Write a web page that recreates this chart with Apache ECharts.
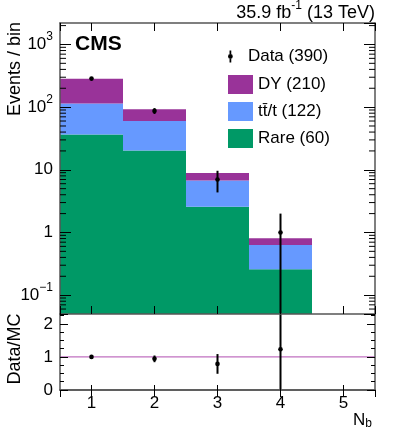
<!DOCTYPE html>
<html>
<head>
<meta charset="utf-8">
<script src="https://cdn.jsdelivr.net/npm/echarts@6/dist/echarts.min.js"></script>
<style>
html, body { margin: 0; padding: 0; background: #fff; }
#chart { width: 399px; height: 436px; }
</style>
</head>
<body>
<div id="chart"></div>
<script>
// N_b bins
const bins = [1, 2, 3, 4, 5];
// MC stack, bottom to top
const rare = [36.7, 20.3, 2.57, 0.26, 0];
const ttbar = [78, 40, 4.2, 0.37, 0];
const dy = [170, 32, 2.1, 0.18, 0];
// observed events
const observed = [285, 87, 7, 1, null];
// legend entries and yields
const legendNames = ['Data', 'DY', 'tt\u0304/t', 'Rare'];
const legendYields = [390, 210, 122, 60];
// reference line of the ratio panel
const ratioRef = 1;

const FONT = 'Liberation Sans, Arial, sans-serif';
const COLORS = { dy: '#993399', tt: '#6699ff', rare: '#009966' };
const Y_MIN = 0.05, Y_MAX = 2200, Y_FLOOR = 1e-3;

// stacked bands [x, lo, hi]
const rareBand = [], ttBand = [], dyBand = [];
bins.forEach((b, i) => {
    const t1 = rare[i], t2 = t1 + ttbar[i], t3 = t2 + dy[i];
    if (rare[i] > 0) rareBand.push([b, Y_FLOOR, t1]);
    if (ttbar[i] > 0) ttBand.push([b, t1, t2]);
    if (dy[i] > 0) dyBand.push([b, t2, t3]);
});

// data points [x, n, err] and ratio [x, n/mc, err/mc]
const dataPts = [], ratioPts = [];
bins.forEach((b, i) => {
    if (observed[i] == null) return;
    const mc = rare[i] + ttbar[i] + dy[i];
    const err = Math.sqrt(observed[i]);
    dataPts.push([b, observed[i], err]);
    ratioPts.push([b, observed[i] / mc, err / mc]);
});

// minor ticks of the log axis
const minorTicks = [];
for (let e = -2; e <= 3; e++) {
    for (let m = 2; m <= 9; m++) {
        const v = m * Math.pow(10, e);
        if (v > Y_MIN && v < Y_MAX) minorTicks.push([v]);
    }
}

function legendLabel(name) {
    return name + ' (' + legendYields[legendNames.indexOf(name)] + ')';
}

function renderBand(params, api) {
    const x = api.value(0);
    const p0 = api.coord([x - 0.5, api.value(2)]);
    const p1 = api.coord([x + 0.5, api.value(1)]);
    return {
        type: 'rect',
        shape: { x: p0[0], y: p0[1], width: p1[0] - p0[0], height: p1[1] - p0[1] },
        style: { fill: api.visual('color') }
    };
}

function renderPoint(params, api) {
    const x = api.value(0), v = api.value(1), e = api.value(2);
    const top = api.coord([x, v + e]);
    const bot = api.coord([x, Math.max(v - e, Y_FLOOR)]);
    const c = api.coord([x, v]);
    return {
        type: 'group',
        children: [
            { type: 'line', shape: { x1: c[0], y1: top[1], x2: c[0], y2: bot[1] }, style: { stroke: '#000', lineWidth: 2 } },
            { type: 'circle', shape: { cx: c[0], cy: c[1], r: 2.3 }, style: { fill: '#000' } }
        ]
    };
}

function renderMinorTicks(params, api) {
    const l = api.coord([0.5, api.value(0)]);
    const r = api.coord([5.5, api.value(0)]);
    return {
        type: 'group',
        children: [
            { type: 'line', shape: { x1: l[0], y1: l[1], x2: l[0] + 6, y2: l[1] }, style: { stroke: '#000', lineWidth: 1 } },
            { type: 'line', shape: { x1: r[0], y1: r[1], x2: r[0] - 6, y2: r[1] }, style: { stroke: '#000', lineWidth: 1 } }
        ]
    };
}

function logLabel(v) {
    const e = Math.round(Math.log10(v));
    if (e === 1) return '{base|10}';
    if (e === 0) return '{base|1}';
    return '{base|10}{sup|' + (e < 0 ? '\u22121' : e) + '}';
}

const labelRich = {
    base: { fontSize: 17, fontFamily: FONT, color: '#000', verticalAlign: 'top', padding: [5, 0, 5, 0] },
    sup: { fontSize: 12, fontFamily: FONT, color: '#000', verticalAlign: 'top' }
};

const lineStyle = { color: '#555', width: 1.5 };
const tickStyle = { color: '#000', width: 1 };

function xAxisDef(gridIndex, position, tickLen, showLabels) {
    return {
        type: 'value', gridIndex: gridIndex, position: position, min: 0.5, max: 5.5, z: 5,
        axisLine: { show: true, lineStyle: lineStyle },
        axisTick: { show: true, inside: true, length: tickLen, lineStyle: tickStyle },
        axisLabel: { show: showLabels, showMinLabel: false, showMaxLabel: false, margin: 5,
            fontSize: 17, fontFamily: FONT, color: '#000' },
        splitLine: { show: false }
    };
}

const chart = echarts.init(document.getElementById('chart'));
chart.setOption({
    animation: false,
    grid: [
        { left: 60, right: 24, top: 23, height: 291 },
        { left: 60, right: 24, top: 314, height: 76 }
    ],
    xAxis: [
        xAxisDef(0, 'bottom', 8, false),
        xAxisDef(0, 'top', 8, false),
        Object.assign(xAxisDef(1, 'bottom', 5, true), {
            name: 'N{sub|b}', nameLocation: 'end', nameGap: 0,
            nameTextStyle: { fontSize: 17, fontFamily: FONT, color: '#000', align: 'right', verticalAlign: 'top',
                padding: [20, 3, 0, 0],
                rich: { sub: { fontSize: 12, fontFamily: FONT, color: '#000', verticalAlign: 'top', padding: [8, 0, 0, 0] } } }
        }),
        xAxisDef(1, 'top', 7, false)
    ],
    yAxis: [
        {
            type: 'log', logBase: 10, gridIndex: 0, position: 'left', min: Y_MIN, max: Y_MAX, z: 5,
            axisLine: { show: true, lineStyle: lineStyle },
            axisTick: { show: true, inside: true, length: 11, lineStyle: tickStyle },
            axisLabel: { showMinLabel: false, showMaxLabel: false, margin: 7, formatter: logLabel, rich: labelRich },
            splitLine: { show: false }
        },
        {
            type: 'log', logBase: 10, gridIndex: 0, position: 'right', min: Y_MIN, max: Y_MAX, z: 5,
            axisLine: { show: true, lineStyle: lineStyle },
            axisTick: { show: true, inside: true, length: 11, lineStyle: tickStyle },
            axisLabel: { show: false },
            splitLine: { show: false }
        },
        {
            type: 'value', gridIndex: 1, position: 'left', min: 0, max: 2.3, interval: 1, z: 5,
            axisLine: { show: true, lineStyle: lineStyle },
            axisTick: { show: true, inside: true, length: 8, lineStyle: tickStyle },
            minorTick: { show: true, splitNumber: 4, length: 4, lineStyle: tickStyle },
            axisLabel: { showMaxLabel: false, margin: 7, fontSize: 17, fontFamily: FONT, color: '#000' },
            splitLine: { show: false }
        },
        {
            type: 'value', gridIndex: 1, position: 'right', min: 0, max: 2.3, interval: 1, z: 5,
            axisLine: { show: true, lineStyle: lineStyle },
            axisTick: { show: true, inside: true, length: 8, lineStyle: tickStyle },
            minorTick: { show: true, splitNumber: 4, length: 4, lineStyle: tickStyle },
            axisLabel: { show: false },
            splitLine: { show: false }
        }
    ],
    legend: [
        {
            data: [{ name: 'Data', icon: 'path://M1.7,0h1.6v3.3h-1.6z M1.7,7.7h1.6v3.3h-1.6z M0.3,5.5a2.2,2.2 0 1,1 4.4,0a2.2,2.2 0 1,1 -4.4,0z' }],
            left: 223, top: 43, itemWidth: 25, itemHeight: 12, selectedMode: false,
            itemStyle: { color: '#000', borderWidth: 0 },
            formatter: legendLabel,
            textStyle: { fontSize: 17, fontFamily: FONT, color: '#000' }
        },
        {
            data: ['DY', 'tt\u0304/t', 'Rare'],
            orient: 'vertical', left: 223, top: 70, itemWidth: 25, itemHeight: 19, itemGap: 8,
            icon: 'rect', selectedMode: false,
            formatter: legendLabel,
            textStyle: { fontSize: 17, fontFamily: FONT, color: '#000' }
        }
    ],
    graphic: [
        { type: 'text', x: 15, y: 22, rotation: Math.PI / 2,
          style: { text: 'Events / bin', align: 'right', verticalAlign: 'middle', fontSize: 18, fontFamily: FONT, fill: '#000' } },
        { type: 'text', x: 15, y: 349, rotation: Math.PI / 2,
          style: { text: 'Data/MC', align: 'center', verticalAlign: 'middle', fontSize: 18, fontFamily: FONT, fill: '#000' } },
        { type: 'text', x: 75, y: 34,
          style: { text: 'CMS', align: 'left', verticalAlign: 'top', fontSize: 21, fontWeight: 'bold', fontFamily: FONT, fill: '#000' } },
        { type: 'text', x: 375, y: 0,
          style: { text: '{a|35.9 fb}{s|-1}{a| (13 TeV)}', align: 'right', verticalAlign: 'top',
            rich: {
                a: { fontSize: 18, fontFamily: FONT, color: '#000', verticalAlign: 'top', padding: [4, 0, 0, 0] },
                s: { fontSize: 12, fontFamily: FONT, color: '#000', verticalAlign: 'top' }
            } } }
    ],
    series: [
        { name: 'Rare', type: 'custom', xAxisIndex: 0, yAxisIndex: 0, clip: true, z: 2,
          itemStyle: { color: COLORS.rare }, renderItem: renderBand, encode: { x: 0, y: [1, 2] }, data: rareBand },
        { name: 'tt\u0304/t', type: 'custom', xAxisIndex: 0, yAxisIndex: 0, clip: true, z: 2,
          itemStyle: { color: COLORS.tt }, renderItem: renderBand, encode: { x: 0, y: [1, 2] }, data: ttBand },
        { name: 'DY', type: 'custom', xAxisIndex: 0, yAxisIndex: 0, clip: true, z: 2,
          itemStyle: { color: COLORS.dy }, renderItem: renderBand, encode: { x: 0, y: [1, 2] }, data: dyBand },
        { name: 'Data', type: 'custom', xAxisIndex: 0, yAxisIndex: 0, clip: true, z: 4,
          itemStyle: { color: '#000' }, renderItem: renderPoint, encode: { x: 0, y: 1 }, data: dataPts },
        { name: 'minor', type: 'custom', xAxisIndex: 0, yAxisIndex: 0, z: 6, silent: true,
          renderItem: renderMinorTicks, encode: { y: 0 }, data: minorTicks },
        { name: 'ref', type: 'line', xAxisIndex: 2, yAxisIndex: 2, z: 3, silent: true, symbol: 'none',
          lineStyle: { color: '#c070c0', width: 1.2 },
          data: [[0.5, ratioRef], [5.5, ratioRef]] },
        { name: 'Ratio', type: 'custom', xAxisIndex: 2, yAxisIndex: 2, clip: true, z: 4,
          itemStyle: { color: '#000' }, renderItem: renderPoint, encode: { x: 0, y: 1 }, data: ratioPts }
    ]
});
</script>
</body>
</html>
